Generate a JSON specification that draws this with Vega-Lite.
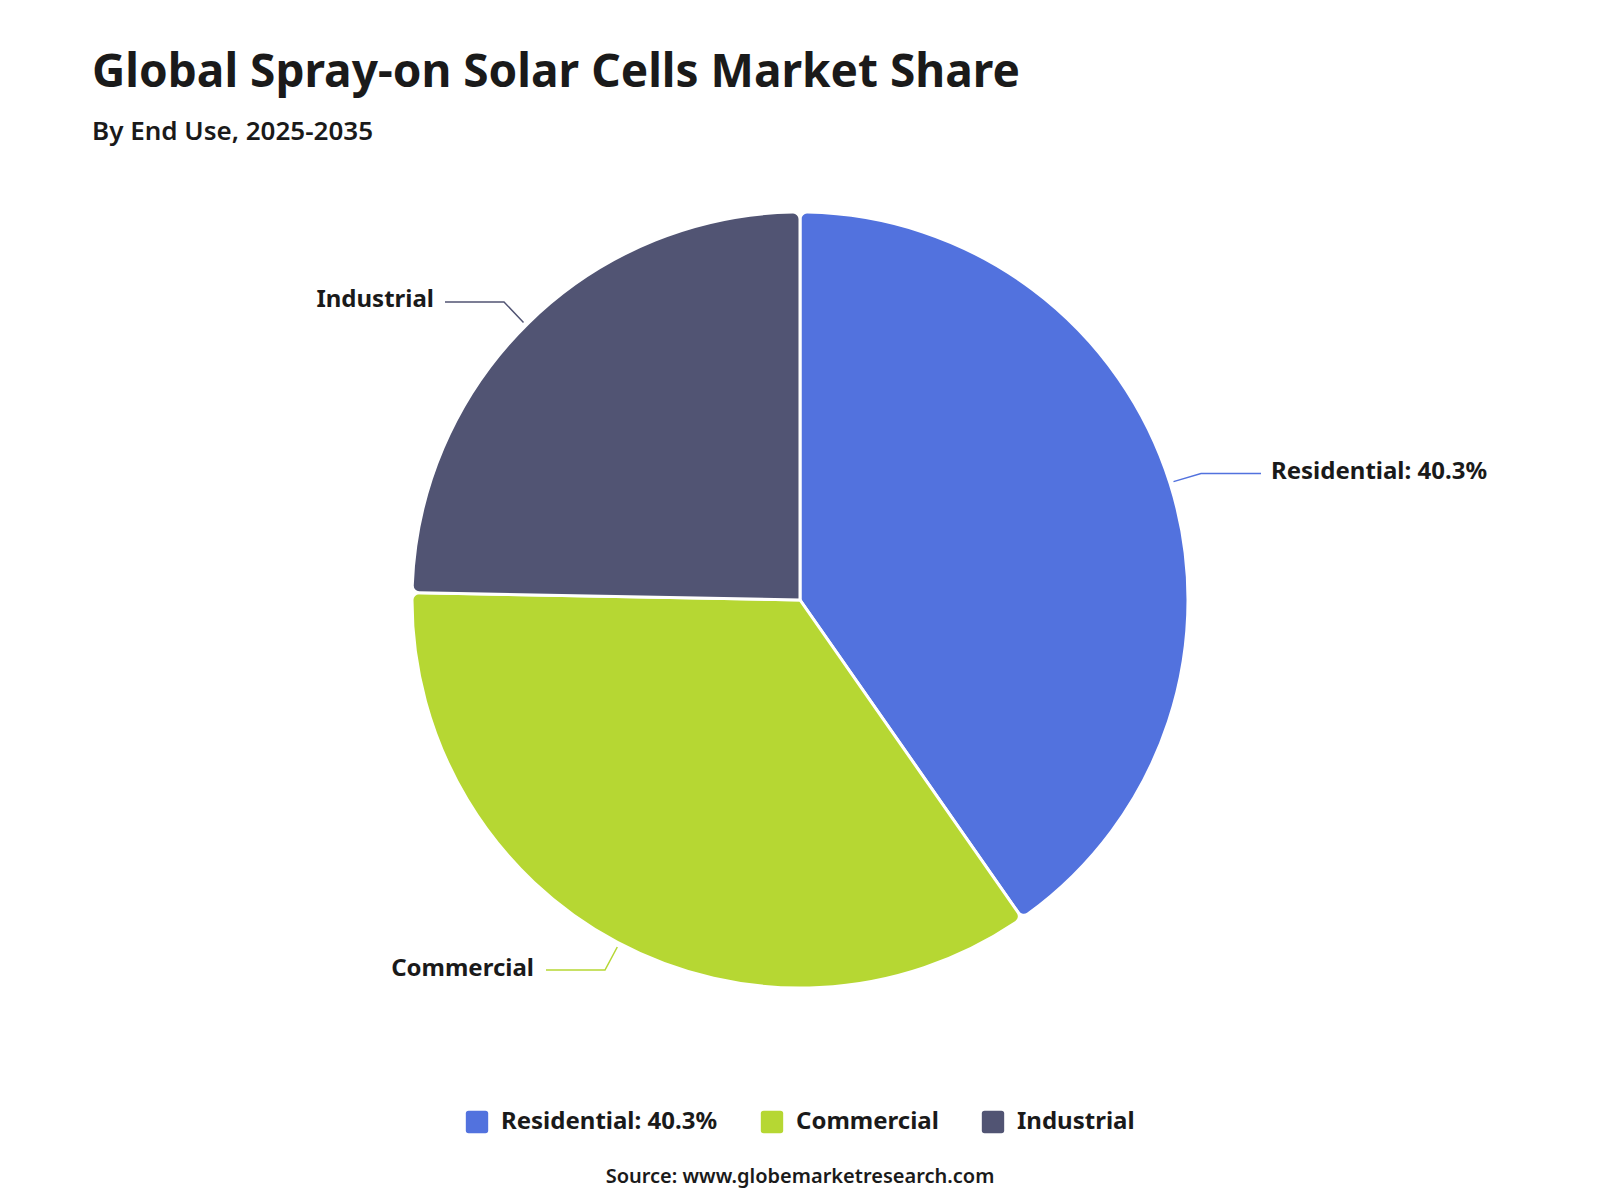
{
  "$schema": "https://vega.github.io/schema/vega-lite/v6.json",
  "width": 1416,
  "height": 860,
  "autosize": {"type": "none"},
  "padding": {"top": 170, "left": 92, "right": 92, "bottom": 170},
  "background": "white",
  "title": {
    "text": "Global Spray-on Solar Cells Market Share",
    "subtitle": "By End Use, 2025-2035",
    "anchor": "start",
    "font": "Noto Sans",
    "fontSize": 46,
    "fontWeight": "bold",
    "color": "#1a1a1a",
    "subtitleFont": "Noto Sans",
    "subtitleFontSize": 26,
    "subtitleFontWeight": 600,
    "subtitleColor": "#1a1a1a",
    "subtitlePadding": 22,
    "offset": 24
  },
  "datasets": {
    "shares": [
      {"category": "Residential: 40.3%", "share": 40.3, "order": 1},
      {"category": "Commercial", "share": 35.0, "order": 2},
      {"category": "Industrial", "share": 24.7, "order": 3}
    ],
    "leaders": [
      {"category": "Residential: 40.3%", "step": 1, "x": 373.5, "y": 118.4},
      {"category": "Residential: 40.3%", "step": 2, "x": 401, "y": 126.5},
      {"category": "Residential: 40.3%", "step": 3, "x": 461, "y": 126.5},
      {"category": "Commercial", "step": 1, "x": -182.7, "y": -347},
      {"category": "Commercial", "step": 2, "x": -195, "y": -370},
      {"category": "Commercial", "step": 3, "x": -254, "y": -370},
      {"category": "Industrial", "step": 1, "x": -276.5, "y": 277.6},
      {"category": "Industrial", "step": 2, "x": -296, "y": 298},
      {"category": "Industrial", "step": 3, "x": -355, "y": 298}
    ],
    "labels": [
      {"label": "Residential: 40.3%", "side": "right", "x": 471, "y": 128},
      {"label": "Commercial", "side": "left", "x": -266, "y": -369},
      {"label": "Industrial", "side": "left", "x": -366, "y": 300}
    ]
  },
  "layer": [
    {
      "data": {"name": "shares"},
      "mark": {"type": "arc", "outerRadius": 388, "stroke": "white", "strokeWidth": 3, "cornerRadius": 7},
      "encoding": {
        "theta": {"field": "share", "type": "quantitative", "stack": true},
        "order": {"field": "order", "type": "quantitative"},
        "color": {
          "field": "category",
          "type": "nominal",
          "scale": {
            "domain": ["Residential: 40.3%", "Commercial", "Industrial"],
            "range": ["#5272de", "#b6d733", "#515473"]
          },
          "sort": ["Residential: 40.3%", "Commercial", "Industrial"],
          "legend": {
            "orient": "bottom",
            "direction": "horizontal",
            "title": "Source: www.globemarketresearch.com",
            "titleOrient": "bottom",
            "titleAnchor": "middle",
            "titleFont": "Noto Sans",
            "titleFontSize": 20,
            "titleFontWeight": 600,
            "titleColor": "#1a1a1a",
            "titleLimit": 1000,
            "titlePadding": 33,
            "labelFont": "Noto Sans",
            "labelFontSize": 24,
            "labelFontWeight": "bold",
            "labelColor": "#1a1a1a",
            "labelOffset": 12,
            "labelLimit": 400,
            "columnPadding": 42,
            "symbolType": "M -0.75,-1 H 0.75 Q 1,-1 1,-0.75 V 0.75 Q 1,1 0.75,1 H -0.75 Q -1,1 -1,0.75 V -0.75 Q -1,-1 -0.75,-1 Z",
            "symbolSize": 500,
            "symbolStrokeWidth": 0,
            "symbolOpacity": 1,
            "offset": 80
          }
        }
      }
    },
    {
      "data": {"name": "leaders"},
      "mark": {"type": "line", "strokeWidth": 1.5},
      "encoding": {
        "x": {"field": "x", "type": "quantitative", "scale": {"domain": [-708, 708], "nice": false, "zero": false}, "axis": null},
        "y": {"field": "y", "type": "quantitative", "scale": {"domain": [-430, 430], "nice": false, "zero": false}, "axis": null},
        "order": {"field": "step", "type": "quantitative"},
        "detail": {"field": "category", "type": "nominal"},
        "color": {"field": "category", "type": "nominal", "legend": null}
      }
    },
    {
      "data": {"name": "labels"},
      "transform": [{"filter": "datum.side === 'right'"}],
      "mark": {"type": "text", "align": "left", "baseline": "middle", "font": "Noto Sans", "fontSize": 24, "fontWeight": "bold", "color": "#1a1a1a"},
      "encoding": {
        "x": {"field": "x", "type": "quantitative"},
        "y": {"field": "y", "type": "quantitative"},
        "text": {"field": "label"}
      }
    },
    {
      "data": {"name": "labels"},
      "transform": [{"filter": "datum.side === 'left'"}],
      "mark": {"type": "text", "align": "right", "baseline": "middle", "font": "Noto Sans", "fontSize": 24, "fontWeight": "bold", "color": "#1a1a1a"},
      "encoding": {
        "x": {"field": "x", "type": "quantitative"},
        "y": {"field": "y", "type": "quantitative"},
        "text": {"field": "label"}
      }
    }
  ],
  "config": {
    "view": {"stroke": null},
    "legend": {"layout": {"bottom": {"anchor": "middle"}}}
  }
}
